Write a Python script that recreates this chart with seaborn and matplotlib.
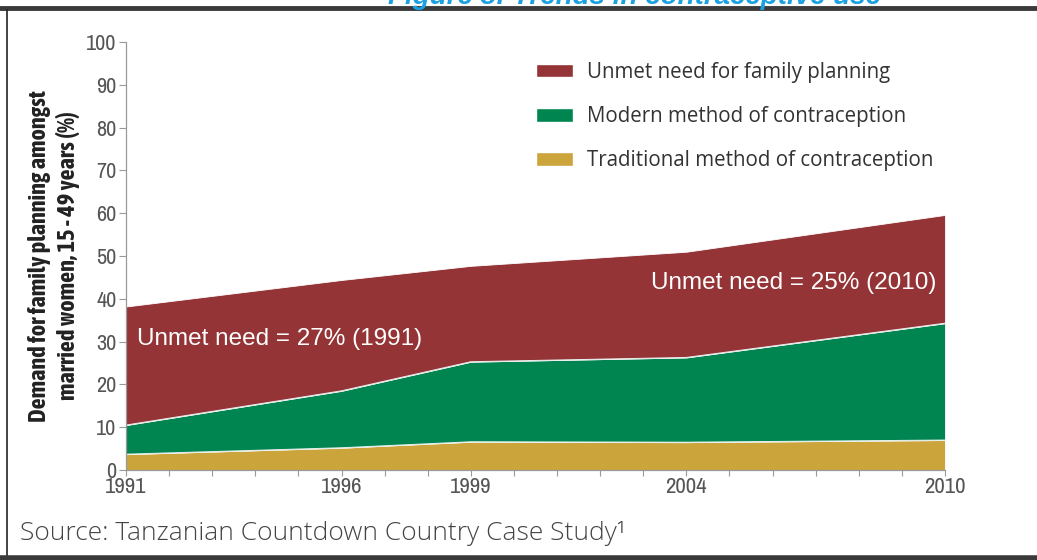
import matplotlib
matplotlib.use("Agg")
import matplotlib.pyplot as plt
from matplotlib.patches import Patch
import seaborn as sns
import numpy as np
import pandas as pd

years = [1991, 1996, 1999, 2004, 2010]
traditional = [3.7, 5.2, 6.6, 6.5, 7.0]
modern = [6.8, 13.3, 18.7, 19.8, 27.3]
unmet = [27.7, 25.9, 22.4, 24.7, 25.3]
series_names = ["Traditional method of contraception",
                "Modern method of contraception",
                "Unmet need for family planning"]
colors = ["#CBA43B", "#008450", "#943436"]
xtick_labels = ["1991", "1996", "1999", "2004", "2010"]
yticks = list(range(0, 101, 10))

sns.set_theme(style="white")
plt.rcParams['font.family'] = ["Liberation Sans", "DejaVu Sans"]

narrow = ["Archivo Narrow", "Liberation Sans", "DejaVu Sans"]
cond = ["Asap Condensed", "Liberation Sans", "DejaVu Sans"]
wide = ["Open Sans", "Liberation Sans", "DejaVu Sans"]

fig = plt.figure(figsize=(10.37, 5.6), dpi=100)
ax = fig.add_axes([126/1037, 1-470/560, (945-126)/1037, (470-42)/560])

df = pd.DataFrame({"year": years, "Traditional": traditional,
                   "Modern": modern, "Unmet": unmet})
ax.stackplot(df["year"], df["Traditional"], df["Modern"], df["Unmet"],
             colors=colors, edgecolor="white", linewidth=0.6)
cum1 = np.array(traditional)
cum2 = cum1 + np.array(modern)
for y in [cum1, cum2]:
    sns.lineplot(x=years, y=y, ax=ax, color="#e8f0ee", linewidth=0.7, legend=False)

ax.set_xlim(1991, 2010)
ax.set_ylim(0, 100)
ax.set_yticks(yticks)
ax.set_yticklabels([str(v) for v in yticks], fontfamily=narrow, fontsize=16, color="#555555")
ax.set_xticks(years)
ax.set_xticklabels(xtick_labels, fontfamily=narrow, fontsize=16.5, color="#555555")
ax.set_xticks(list(range(1991, 2011)), minor=True)
ax.tick_params(axis="y", which="major", direction="out", length=5, width=0.8, color="#999999", pad=2, left=True)
ax.tick_params(axis="x", which="both", direction="out", length=4, width=0.8, color="#999999", pad=1, bottom=True)
for s in ["top", "right"]:
    ax.spines[s].set_visible(False)
for s in ["left", "bottom"]:
    ax.spines[s].set_color("#999999")
    ax.spines[s].set_linewidth(0.9)

ax.set_ylabel("Demand for family planning amongst\nmarried women, 15 - 49 years (%)",
              fontfamily=cond, fontweight="bold", fontsize=17.5, color="#222222",
              linespacing=1.3, labelpad=4)

ax.text(1991.25, 30.5, "Unmet need = 27% (1991)", color="white", fontsize=17.5,
        va="center", ha="left")
ax.text(2009.8, 43.8, "Unmet need = 25% (2010)", color="white", fontsize=17.5,
        va="center", ha="right")

handles = [Patch(facecolor=colors[2]), Patch(facecolor=colors[1]), Patch(facecolor=colors[0])]
leg = ax.legend(handles, [series_names[2], series_names[1], series_names[0]],
                loc="upper left", bbox_to_anchor=(410/819, 1 - 20/428), frameon=False,
                prop={"family": wide, "size": 14.8},
                handlelength=1.8, handleheight=0.63, labelspacing=1.12,
                handletextpad=0.68, borderaxespad=0, borderpad=0)
for t in leg.get_texts():
    t.set_color("#333333")

fig.text(20/1037, 1 - 534/560, "Source: Tanzanian Countdown Country Case Study\u00b9",
         fontsize=19, color="#444444", va="center", ha="left", fontfamily=wide,
         fontweight="light")

fig.text(635/1037, 1 - 4/560, "Figure 5: Trends in contraceptive use", fontsize=20,
         color="#1BA1E2", style="italic", fontweight="bold", ha="center", va="baseline")

fig.add_artist(plt.Line2D([0, 1], [1 - 8/560, 1 - 8/560], color="#3a3a3a", linewidth=3.5,
                          transform=fig.transFigure))
fig.add_artist(plt.Line2D([7/1037, 7/1037], [1 - 10/560, 3/560], color="#222222", linewidth=1.2,
                          transform=fig.transFigure))
fig.add_artist(plt.Line2D([0, 1], [2/560, 2/560], color="#3a3a3a", linewidth=4,
                          transform=fig.transFigure))

fig.savefig("out.png", dpi=100)
